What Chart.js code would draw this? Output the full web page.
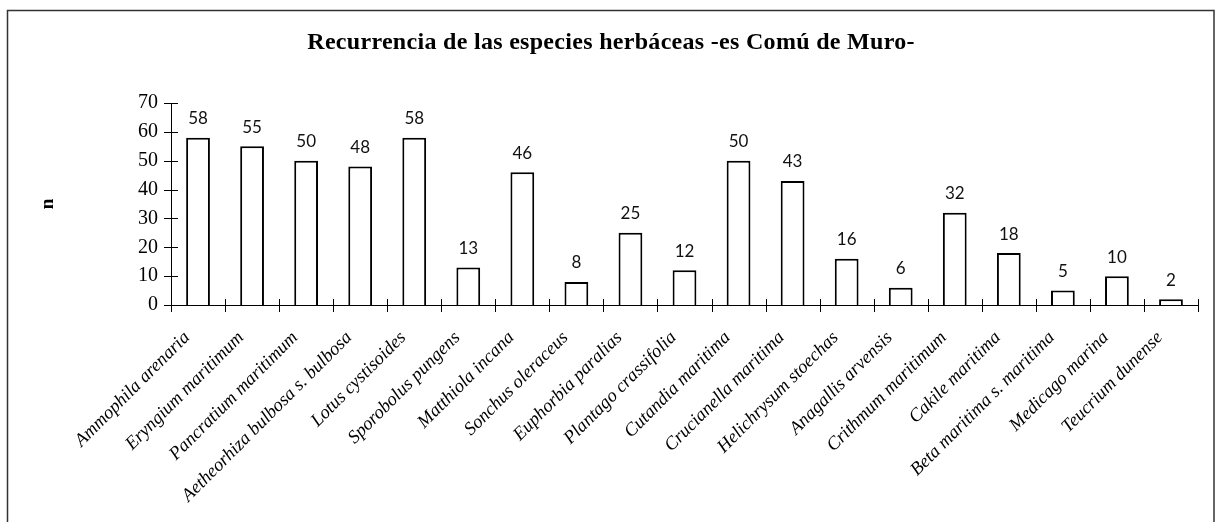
<!DOCTYPE html>
<html>
<head>
<meta charset="utf-8">
<script src="https://cdn.jsdelivr.net/npm/chart.js@4.4.1/dist/chart.umd.min.js"></script>
<style>
  html, body { margin: 0; padding: 0; background: #fff; }
</style>
</head>
<body>
<canvas id="chartHerbaceas" width="1215" height="522"></canvas>
<script>
const species = [
  "Ammophila arenaria", "Eryngium maritimum", "Pancratium maritimum",
  "Aetheorhiza bulbosa s. bulbosa", "Lotus cystisoides", "Sporobolus pungens",
  "Matthiola incana", "Sonchus oleraceus", "Euphorbia paralias",
  "Plantago crassifolia", "Cutandia maritima", "Crucianella maritima",
  "Helichrysum stoechas", "Anagallis arvensis", "Crithmum maritimum",
  "Cakile maritima", "Beta maritima s. maritima", "Medicago marina",
  "Teucrium dunense"
];
const counts = [58, 55, 50, 48, 58, 13, 46, 8, 25, 12, 50, 43, 16, 6, 32, 18, 5, 10, 2];
const yTicks = [0, 10, 20, 30, 40, 50, 60, 70];

const chartTitle = "Recurrencia de las especies herbáceas -es Comú de Muro-";
const yAxisTitle = "n";

const serif = "'Liberation Serif', 'Times New Roman', serif";

// outer border of the chart object + title (drawn with a little letter spacing)
const framePlugin = {
  id: "frame",
  beforeDraw(chart) {
    const ctx = chart.ctx;
    ctx.save();
    ctx.strokeStyle = "#333";
    ctx.lineWidth = 1.5;
    ctx.strokeRect(7.5, 10.5, chart.width - 8.5, chart.height + 20);

    ctx.font = "bold 24px " + serif;
    ctx.letterSpacing = "0.3px";
    ctx.fillStyle = "#000";
    ctx.textAlign = "center";
    ctx.textBaseline = "alphabetic";
    ctx.fillText(chartTitle, 611, 49);
    ctx.restore();
  },
};

// tick marks that cross both axes
const crossTicksPlugin = {
  id: "crossTicks",
  afterDraw(chart) {
    const ctx = chart.ctx;
    const x = chart.scales.x;
    const y = chart.scales.y;
    ctx.save();
    ctx.strokeStyle = "#000";
    ctx.lineWidth = 1;
    ctx.beginPath();
    yTicks.forEach((v) => {
      const py = Math.round(y.getPixelForValue(v)) + 0.5;
      ctx.moveTo(x.left - 7, py);
      ctx.lineTo(x.left + 7, py);
    });
    const step = (x.right - x.left) / species.length;
    for (let i = 0; i <= species.length; i++) {
      const px = Math.round(x.left + i * step) + 0.5;
      ctx.moveTo(px, y.bottom - 6);
      ctx.lineTo(px, y.bottom + 7);
    }
    ctx.stroke();
    ctx.restore();
  },
};

// value printed above each bar
const valueLabelsPlugin = {
  id: "valueLabels",
  afterDatasetsDraw(chart) {
    const ctx = chart.ctx;
    const meta = chart.getDatasetMeta(0);
    ctx.save();
    ctx.font = "17px Lato, 'Noto Sans', sans-serif";
    ctx.fillStyle = "#111";
    ctx.textAlign = "center";
    ctx.textBaseline = "middle";
    meta.data.forEach((bar, i) => {
      ctx.fillText(String(counts[i]), bar.x, bar.y - 19);
    });
    ctx.restore();
  },
};

new Chart(document.getElementById("chartHerbaceas"), {
  type: "bar",
  data: {
    labels: species,
    datasets: [
      {
        data: counts,
        backgroundColor: "#fff",
        borderColor: "#000",
        borderWidth: 2,
        borderSkipped: "start",
        barPercentage: 0.44,
        categoryPercentage: 1,
      },
    ],
  },
  options: {
    responsive: false,
    animation: false,
    layout: { padding: { top: 103, right: 17, bottom: 0, left: 0 } },
    plugins: {
      legend: { display: false },
      tooltip: { enabled: false },
      title: { display: false },
    },
    scales: {
      x: {
        offset: true,
        grid: { display: false },
        border: { display: true, color: "#000", width: 1 },
        ticks: {
          autoSkip: false,
          minRotation: 45,
          maxRotation: 45,
          padding: 14,
          labelOffset: -11,
          color: "#000",
          font: { family: serif, size: 18.5, style: "italic" },
        },
        afterFit: (scale) => { scale.height = 217; },
      },
      y: {
        min: 0,
        max: 70,
        grid: { display: false },
        border: { display: true, color: "#000", width: 1 },
        ticks: {
          stepSize: 10,
          padding: 5,
          color: "#000",
          font: { family: serif, size: 20 },
        },
        title: {
          display: true,
          text: yAxisTitle,
          color: "#000",
          font: { family: serif, size: 19, weight: "bold" },
          padding: { top: 37, bottom: 0 },
        },
        afterFit: (scale) => { scale.width = 171; },
      },
    },
  },
  plugins: [framePlugin, crossTicksPlugin, valueLabelsPlugin],
});
</script>
</body>
</html>
